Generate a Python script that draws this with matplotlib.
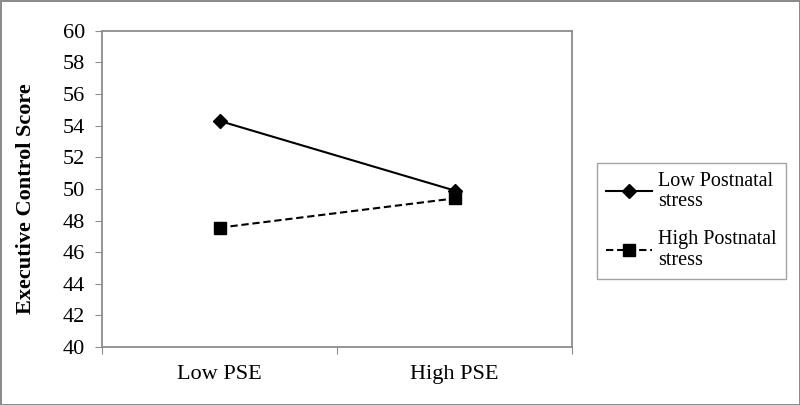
import matplotlib
matplotlib.use("Agg")
import matplotlib.pyplot as plt
from matplotlib.ticker import FixedLocator, NullFormatter

plt.rcParams['font.family'] = ['Liberation Serif', 'DejaVu Serif']

# data
categories = ['Low PSE', 'High PSE']
low_stress = [54.3, 49.9]
high_stress = [47.55, 49.4]
series_labels = ['Low Postnatal\nstress', 'High Postnatal\nstress']
y_ticks = list(range(40, 61, 2))

grey = '#8c8c8c'

fig = plt.figure(figsize=(8, 4.05), dpi=100, edgecolor=grey, linewidth=2)
ax = fig.add_axes([0.1275, 0.143, 0.5875, 0.781])

x = [0.5, 1.5]
ax.plot(x, low_stress, color='black', linestyle='-', linewidth=1.5,
        marker='D', markersize=7, label=series_labels[0])
ax.plot(x, high_stress, color='black', linestyle=(0, (3.5, 1.8)), linewidth=1.5,
        marker='s', markersize=8, label=series_labels[1])

ax.set_xlim(0, 2)
ax.set_ylim(40, 60)
ax.set_yticks(y_ticks)
ax.xaxis.set_major_locator(FixedLocator([0, 1, 2]))
ax.xaxis.set_major_formatter(NullFormatter())
ax.xaxis.set_minor_locator(FixedLocator(x))
ax.set_xticklabels(categories, minor=True)
ax.tick_params(axis='x', which='minor', length=0, pad=13, labelsize=16)
ax.tick_params(axis='x', which='major', length=5, color=grey, direction='out')
ax.tick_params(axis='y', length=5, color=grey, direction='out', labelsize=16, pad=7)

for s in ax.spines.values():
    s.set_color(grey)
    s.set_linewidth(1.3)

ax.set_ylabel('Executive Control Score', fontsize=16, fontweight='bold')
ax.yaxis.set_label_coords(-0.141, 0.47)

leg = ax.legend(loc='center left', bbox_to_anchor=(1.053, 0.40), fontsize=14.5,
                frameon=True, fancybox=False, edgecolor=grey, handlelength=2.3,
                labelspacing=0.95, borderpad=0.45, handletextpad=0.3,
                borderaxespad=0)
leg.get_frame().set_linewidth(1.0)
for t in leg.get_texts():
    t.set_linespacing(1.1)

fig.savefig('out.png', dpi=100)
